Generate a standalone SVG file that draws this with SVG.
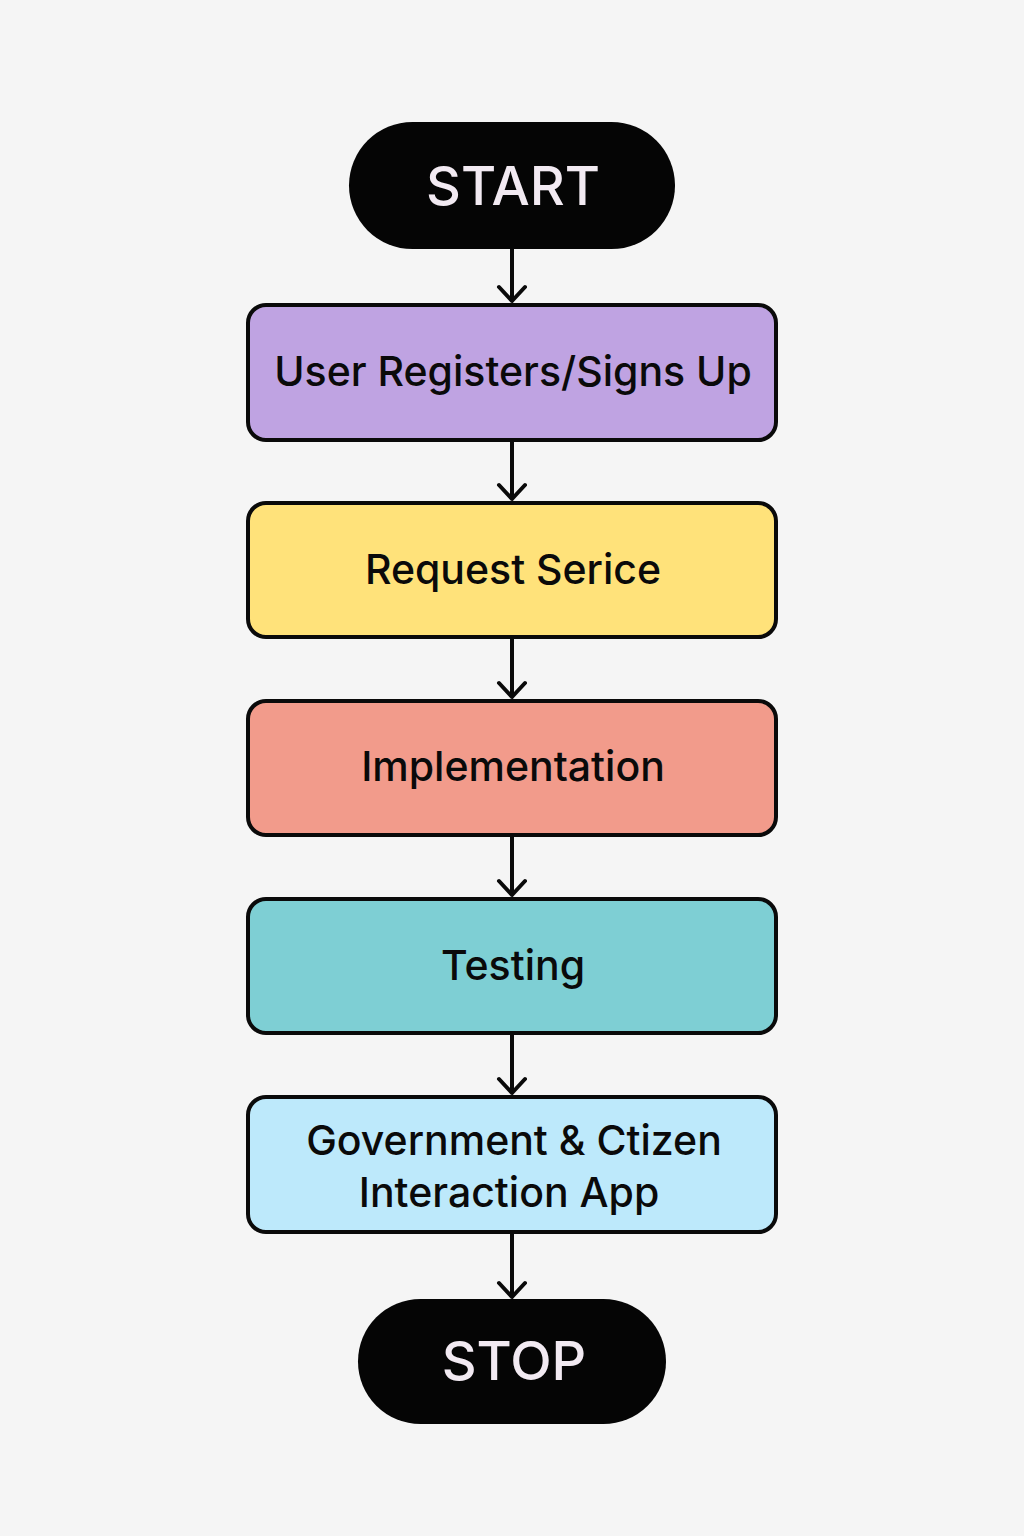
<svg xmlns="http://www.w3.org/2000/svg" width="1024" height="1536" viewBox="0 0 1024 1536">
<defs>
<style>
.term{fill:#050505;}
.termtxt{font-family:Inter,"Noto Sans",sans-serif;font-weight:500;font-size:54px;fill:#f2eaf2;text-anchor:middle;}
.box{stroke:#0a0a0a;stroke-width:4;}
.txt{font-family:Inter,"Noto Sans",sans-serif;font-weight:500;font-size:41px;fill:#0a0a0a;text-anchor:middle;}
.conn{stroke:#0a0a0a;stroke-width:4;fill:none;stroke-linecap:round;stroke-linejoin:round;}
</style>
</defs>
<rect width="1024" height="1536" fill="#f5f5f5"/>
<g id="connectors">
<path class="conn" d="M512 249V301M499 287L512 301L525 287"/>
<path class="conn" d="M512 440V499M499 485L512 499L525 485"/>
<path class="conn" d="M512 637V697M499 683L512 697L525 683"/>
<path class="conn" d="M512 835V895M499 881L512 895L525 881"/>
<path class="conn" d="M512 1033V1093M499 1079L512 1093L525 1079"/>
<path class="conn" d="M512 1232V1297M499 1283L512 1297L525 1283"/>
</g>
<g id="start">
<rect class="term" x="349" y="122" width="326" height="127" rx="63.5"/>
<text class="termtxt" x="513" y="205">START</text>
</g>
<g id="register">
<rect class="box" x="248" y="305" width="528" height="135" rx="18" fill="#bfa3e2"/>
<text class="txt" x="513" y="386">User Registers/Signs Up</text>
</g>
<g id="request">
<rect class="box" x="248" y="503" width="528" height="134" rx="18" fill="#ffe27a"/>
<text class="txt" x="513" y="584">Request Serice</text>
</g>
<g id="implementation">
<rect class="box" x="248" y="701" width="528" height="134" rx="18" fill="#f29b8b"/>
<text class="txt" x="513" y="781">Implementation</text>
</g>
<g id="testing">
<rect class="box" x="248" y="899" width="528" height="134" rx="18" fill="#7ecfd4"/>
<text class="txt" x="513" y="980">Testing</text>
</g>
<g id="app">
<rect class="box" x="248" y="1097" width="528" height="135" rx="18" fill="#bde9fb"/>
<text class="txt" x="514" y="1155">Government &amp; Ctizen</text>
<text class="txt" x="509" y="1207">Interaction App</text>
</g>
<g id="stop">
<rect class="term" x="358" y="1299" width="308" height="125" rx="62.5"/>
<text class="termtxt" x="514" y="1380" font-size="52">STOP</text>
</g>
</svg>
